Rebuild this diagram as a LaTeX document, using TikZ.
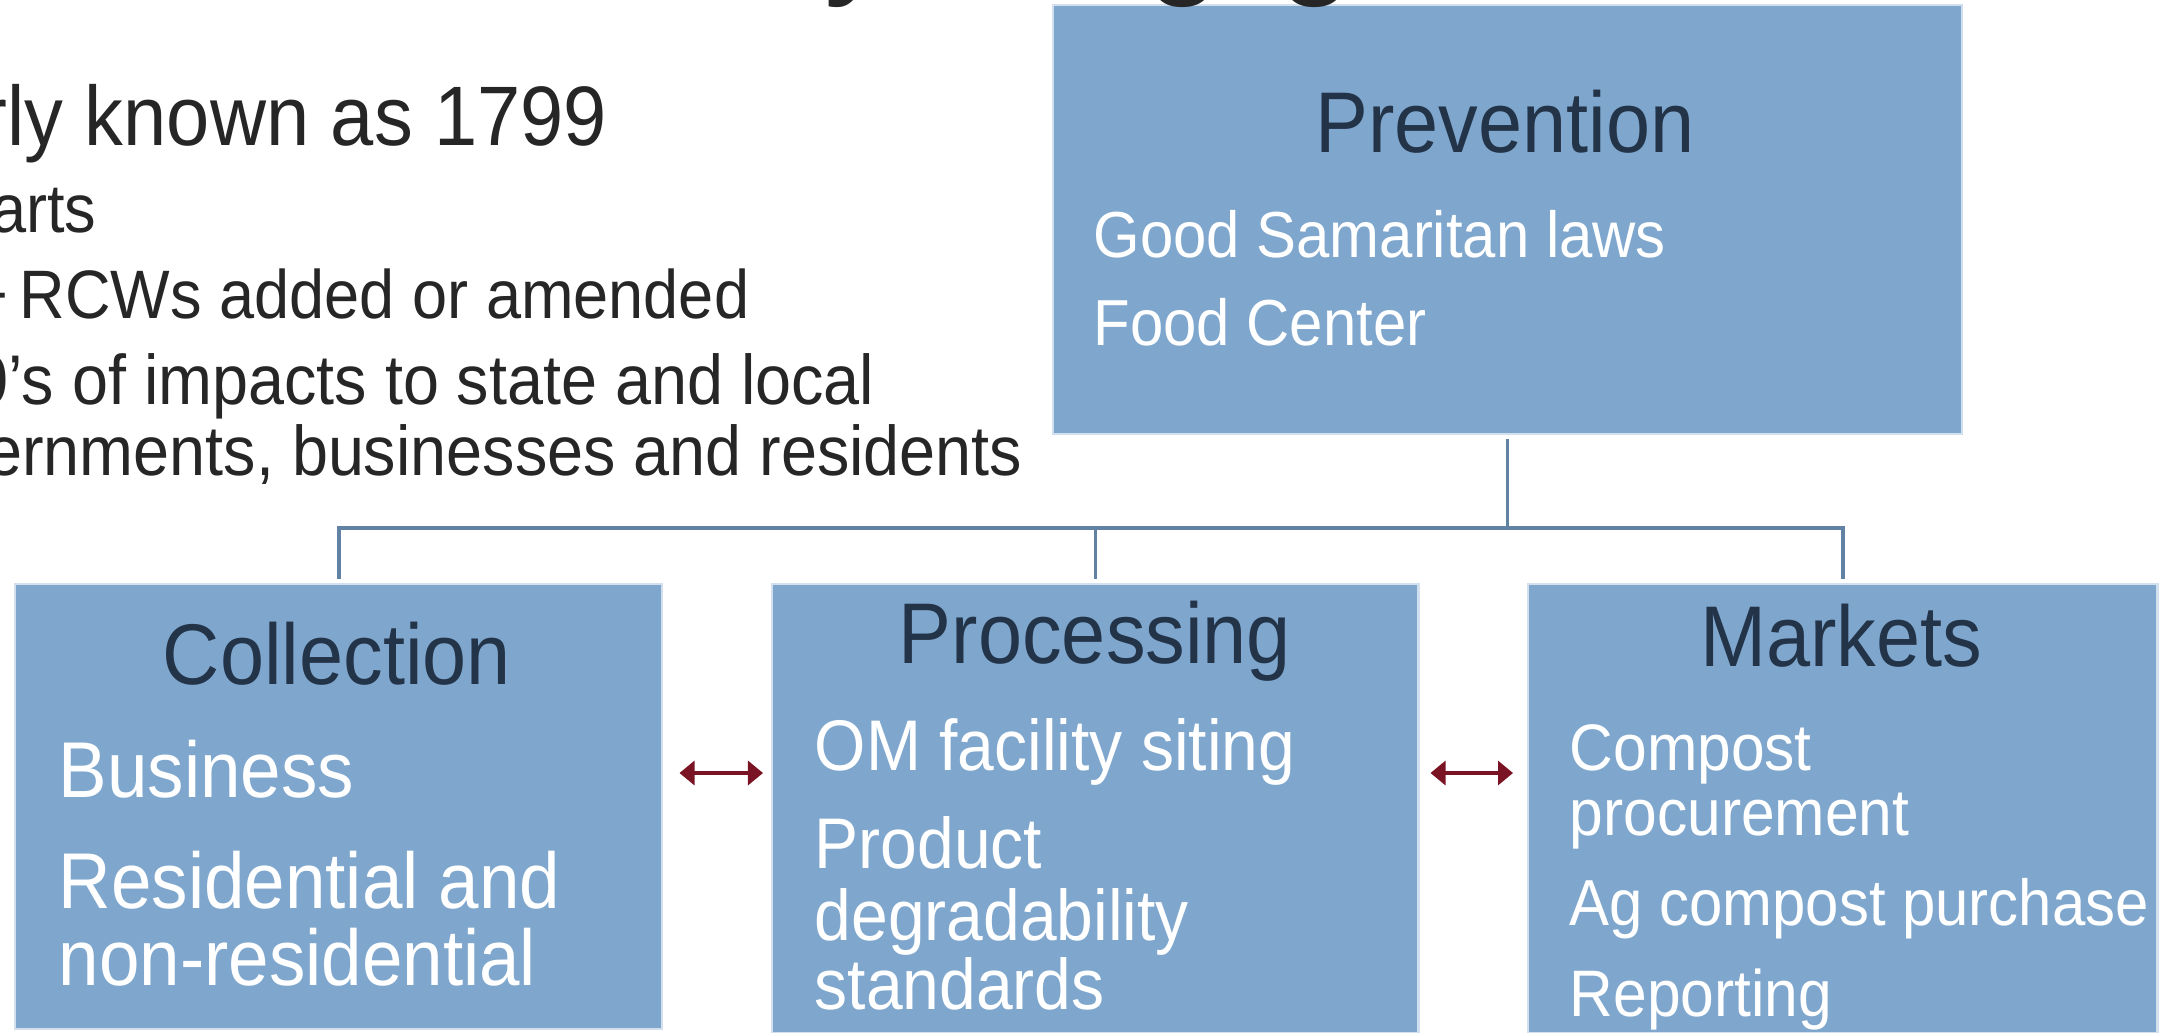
\documentclass[tikz,border=0pt]{standalone}
\usepackage{fontspec}
\setmainfont{Liberation Sans}[FakeStretch=0.92]
\usepackage{xcolor}
\usetikzlibrary{arrows.meta}

\definecolor{boxblue}{RGB}{127,167,206}
\definecolor{headnavy}{RGB}{35,51,72}
\definecolor{linkblue}{RGB}{98,130,164}
\definecolor{arrowred}{RGB}{122,20,36}
\definecolor{bodygray}{RGB}{38,38,38}

\begin{document}
\begin{tikzpicture}[x=0.01cm, y=-0.01cm,
        panel/.style={rectangle, anchor=north west, fill=boxblue, draw=boxblue!35!white, line width=0.6pt, inner sep=0pt},
        heading/.style={anchor=base, inner sep=0pt, text=headnavy, font=\fontsize{24.5}{29}\selectfont},
        item/.style={anchor=base west, inner sep=0pt, text=white},
        bullet/.style={anchor=base east, inner sep=0pt, text=bodygray},
        link/.style={draw=linkblue, line width=1pt},
        twoway/.style={draw=arrowred, line width=0.9pt, {Triangle[length=0.15cm,width=0.24cm]}-{Triangle[length=0.15cm,width=0.24cm]}}]
        \useasboundingbox (0,0) rectangle (2167,1032);
        \clip (0,0) rectangle (2167,1032);

        \node[bullet, font=\fontsize{24}{28}\selectfont] (lineA) at (608,145) {erly known as 1799};
        \node[bullet, font=\fontsize{19.5}{23}\selectfont] (lineB) at (97,232) {arts};
        \node[bullet, font=\fontsize{19.5}{23}\selectfont] (lineC) at (750,318) {+\,RCWs added or amended};
        \node[bullet, font=\fontsize{20}{24}\selectfont] (lineD) at (875,404) {0’s of impacts to state and local};
        \node[bullet, font=\fontsize{20}{24}\selectfont] (lineE) at (1023,475) {ernments, businesses and residents};

        \node[panel, minimum width=9.08cm, minimum height=4.29cm] (prev) at (1052,4) {};
        \node[panel, minimum width=6.47cm, minimum height=4.45cm] (coll) at (14,583) {};
        \node[panel, minimum width=6.46cm, minimum height=4.49cm] (proc) at (771,583) {};
        \node[panel, minimum width=6.29cm, minimum height=4.49cm] (mark) at (1527,583) {};

        \node[anchor=base, inner sep=0pt, text=bodygray, font=\fontsize{44}{50}\selectfont] (titleY) at (860,-25) {y};
        \node[anchor=base, inner sep=0pt, text=bodygray, font=\fontsize{44}{50}\selectfont] (titleG) at (1184,-25) {g};
        \node[anchor=base, inner sep=0pt, text=bodygray, font=\fontsize{44}{50}\selectfont] (titleH) at (1316,-25) {g};

        \node[heading] (prevT) at (1505,152) {Prevention};
        \node[item, font=\fontsize{18.5}{22}\selectfont] (prevA) at (1093,257) {Good Samaritan laws};
        \node[item, font=\fontsize{18.5}{22}\selectfont] (prevB) at (1093,345) {Food Center};

        \node[heading] (collT) at (337,684) {Collection};
        \node[item, font=\fontsize{22.5}{27}\selectfont] (collA) at (58,797) {Business};
        \node[item, font=\fontsize{22.5}{27}\selectfont] (collB) at (58,908) {Residential and};
        \node[item, font=\fontsize{22.5}{27}\selectfont] (collC) at (58,985) {non-residential};

        \node[heading] (procT) at (1095,663) {Processing};
        \node[item, font=\fontsize{20.4}{24}\selectfont] (procA) at (814,770) {OM facility siting};
        \node[item, font=\fontsize{20.4}{24}\selectfont] (procB) at (814,868) {Product};
        \node[item, font=\fontsize{20.4}{24}\selectfont] (procC) at (814,940) {degradability};
        \node[item, font=\fontsize{20.4}{24}\selectfont] (procD) at (814,1009) {standards};

        \node[heading] (markT) at (1841,666) {Markets};
        \node[item, font=\fontsize{18.7}{22}\selectfont] (markA) at (1569,770) {Compost};
        \node[item, font=\fontsize{18.7}{22}\selectfont] (markB) at (1569,835) {procurement};
        \node[item, font=\fontsize{18.5}{22}\selectfont] (markC) at (1569,925) {Ag compost purchase};
        \node[item, font=\fontsize{18.7}{22}\selectfont] (markD) at (1569,1016) {Reporting};

        \coordinate (busrow) at (0,528);
        \coordinate (split) at (prev.south |- busrow);
        \draw[link, shorten <=0.04cm] (prev.south) -- (split);
        \draw[link, shorten >=0.04cm] (split) -| (coll.north);
        \draw[link, shorten >=0.04cm] (split) -| (proc.north);
        \draw[link, shorten >=0.04cm] (split) -| (mark.north);

        \coordinate (midrow) at (0,773);
        \draw[twoway, shorten <=0.16cm, shorten >=0.08cm] (coll.east |- midrow) -- (proc.west |- midrow);
        \draw[twoway, shorten <=0.11cm, shorten >=0.14cm] (proc.east |- midrow) -- (mark.west |- midrow);
\end{tikzpicture}
\end{document}
